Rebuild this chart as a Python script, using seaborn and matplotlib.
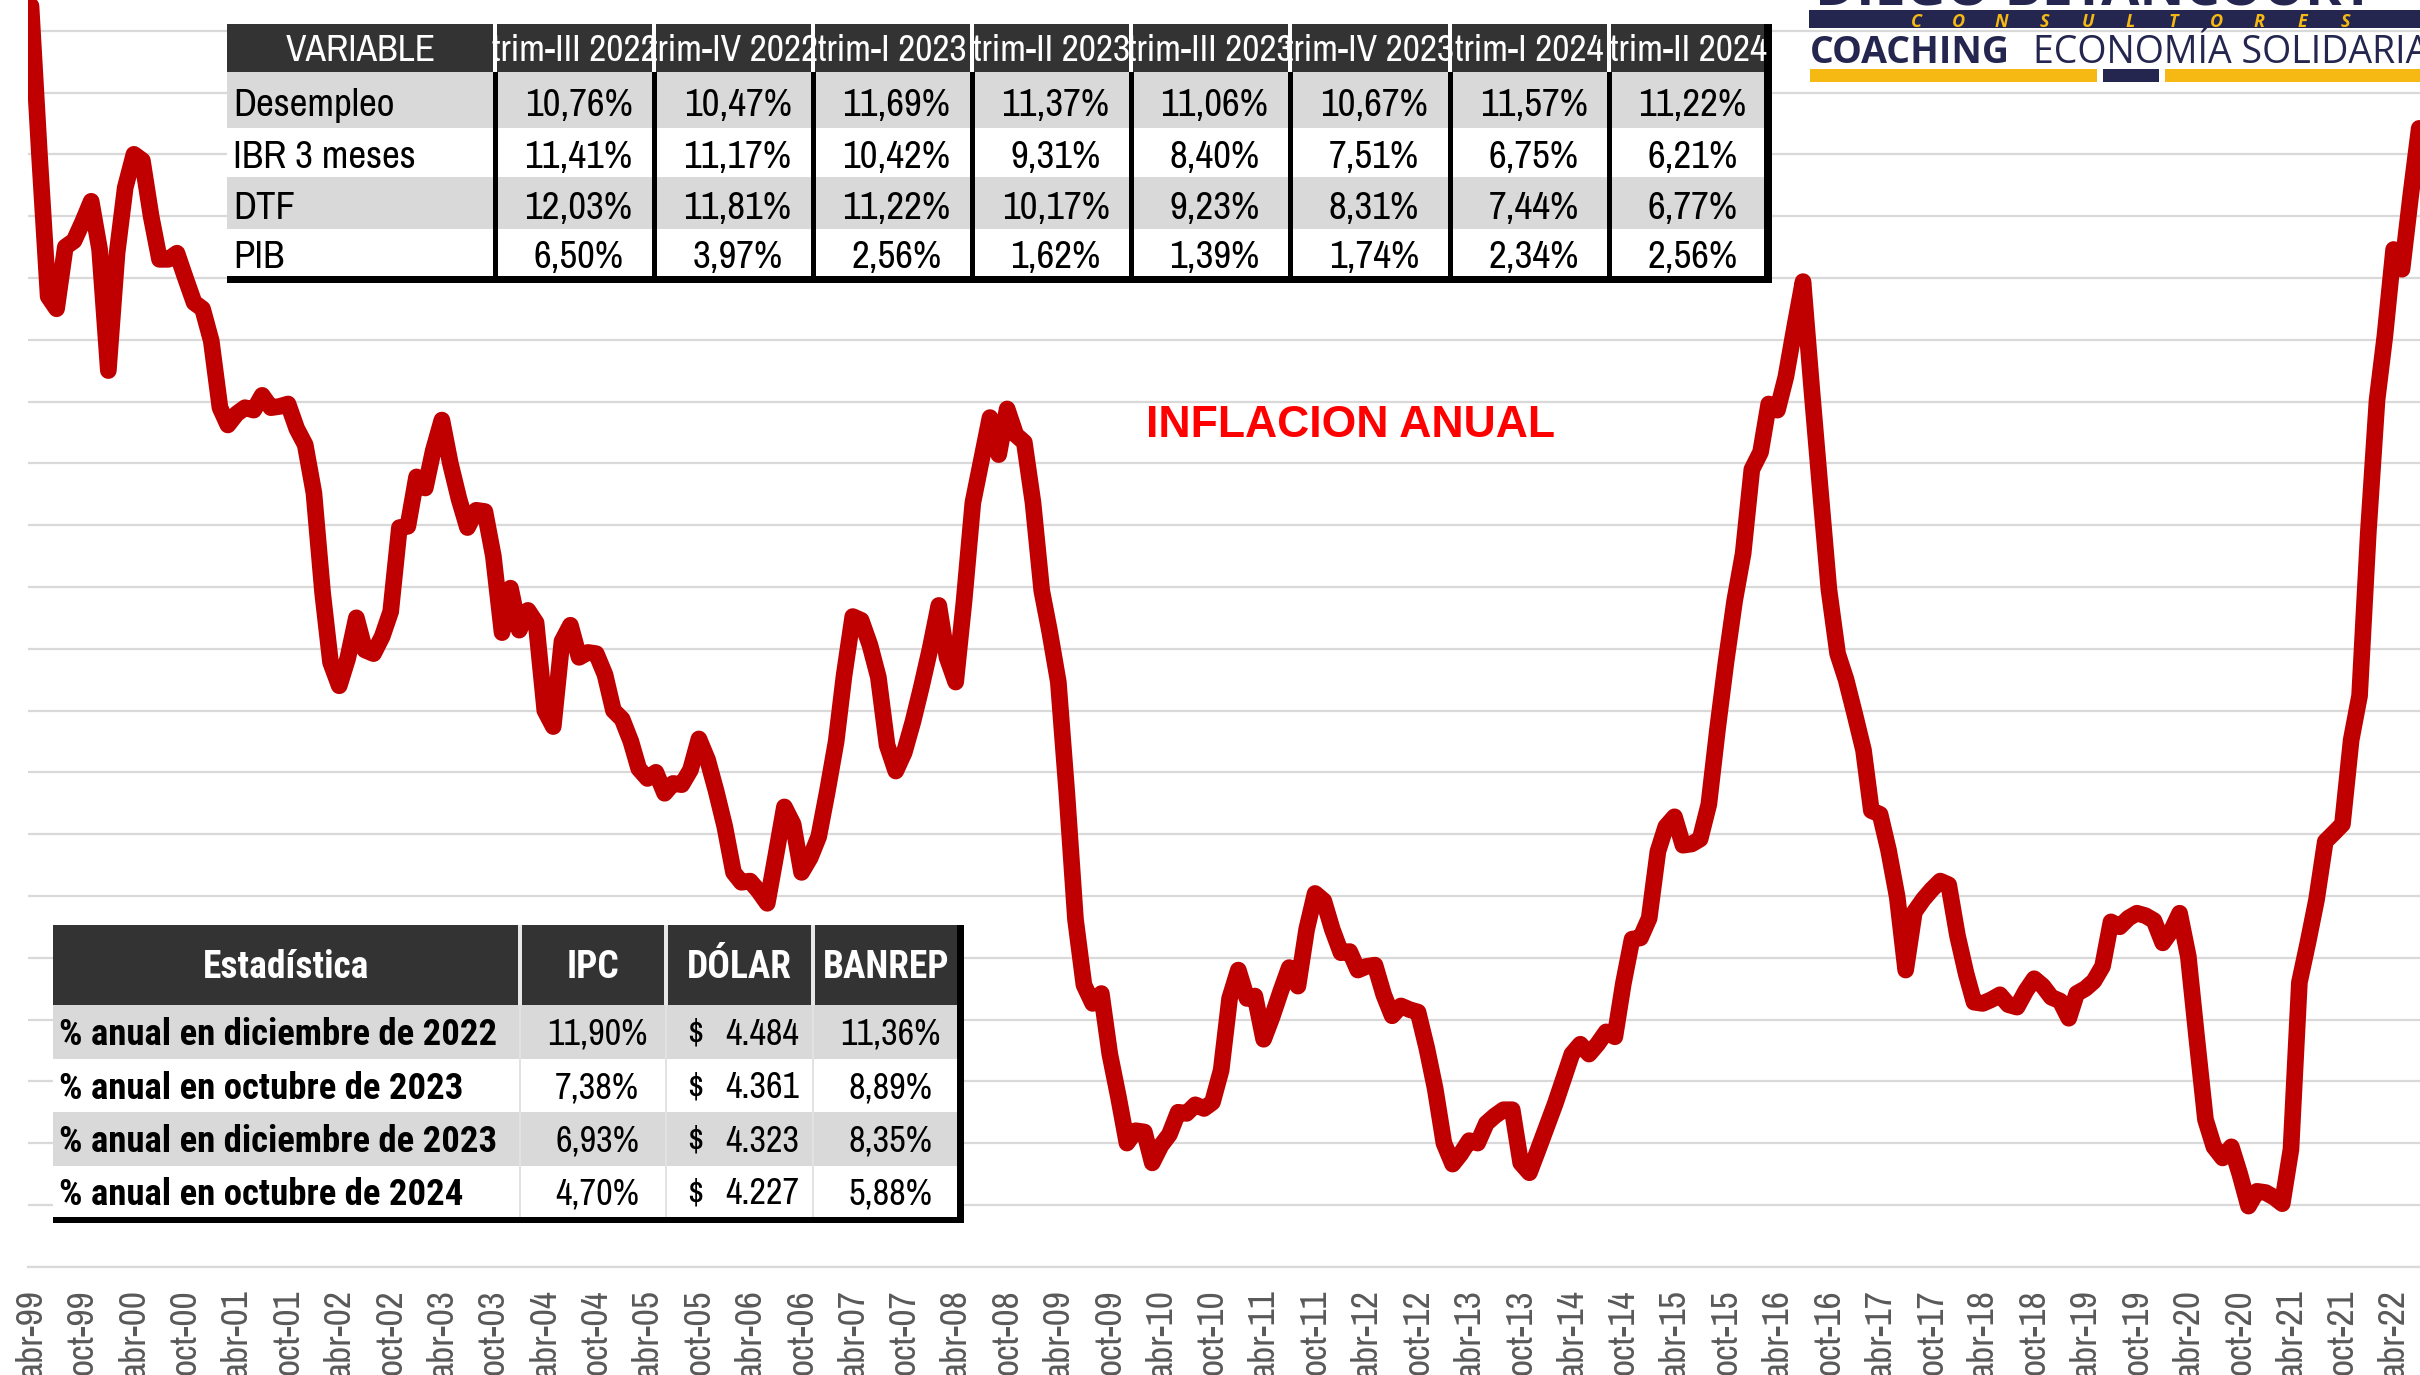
import numpy as np
import pandas as pd
import matplotlib
matplotlib.use('Agg')
import matplotlib.pyplot as plt
import matplotlib.patches as mpatches
from matplotlib import font_manager as fm
import seaborn as sns

# inflacion anual (%), serie mensual desde abr-1999
inicio = '1999-04-01'
inflacion = [
    11.20, 10.00, 8.85, 8.75, 9.25, 9.30, 9.45, 9.62, 9.23,                  # 1999 abr-dic
    8.25, 9.20, 9.73, 10.00, 9.95, 9.50, 9.15, 9.15, 9.20, 9.00, 8.80, 8.75,  # 2000
    8.49, 7.95, 7.81, 7.90, 7.95, 7.93, 8.05, 7.95, 7.96, 7.98, 7.78, 7.65,   # 2001
    7.26, 6.45, 5.89, 5.70, 5.92, 6.25, 5.99, 5.96, 6.10, 6.30, 6.98, 6.99,   # 2002
    7.39, 7.30, 7.60, 7.85, 7.50, 7.21, 6.98, 7.12, 7.11, 6.75, 6.13, 6.49,   # 2003
    6.15, 6.31, 6.21, 5.50, 5.37, 6.06, 6.19, 5.93, 5.97, 5.96, 5.79, 5.50,   # 2004
    5.43, 5.25, 5.03, 4.95, 5.00, 4.83, 4.91, 4.90, 5.02, 5.27, 5.10, 4.85,   # 2005
    4.56, 4.19, 4.11, 4.12, 4.04, 3.94, 4.32, 4.72, 4.58, 4.19, 4.31, 4.48,   # 2006
    4.85, 5.25, 5.78, 6.26, 6.23, 6.03, 5.77, 5.22, 5.01, 5.16, 5.41, 5.69,   # 2007
    6.00, 6.35, 5.93, 5.73, 6.39, 7.18, 7.52, 7.87, 7.57, 7.94, 7.73, 7.67,   # 2008
    7.18, 6.47, 6.14, 5.73, 4.84, 3.81, 3.28, 3.13, 3.21, 2.72, 2.37, 2.00,   # 2009
    2.10, 2.09, 1.84, 1.98, 2.07, 2.25, 2.24, 2.31, 2.28, 2.33, 2.59, 3.17,   # 2010
    3.40, 3.17, 3.19, 2.84, 3.02, 3.23, 3.42, 3.27, 3.73, 4.02, 3.96, 3.73,   # 2011
    3.54, 3.55, 3.40, 3.43, 3.44, 3.20, 3.03, 3.11, 3.08, 3.06, 2.77, 2.44,   # 2012
    2.00, 1.83, 1.91, 2.02, 2.00, 2.16, 2.22, 2.27, 2.27, 1.84, 1.76, 1.94,   # 2013
    2.13, 2.32, 2.51, 2.72, 2.80, 2.72, 2.80, 2.90, 2.86, 3.29, 3.65, 3.66,   # 2014
    3.82, 4.36, 4.56, 4.64, 4.41, 4.42, 4.46, 4.74, 5.35, 5.89, 6.39, 6.77,   # 2015
    7.45, 7.59, 7.98, 7.93, 8.20, 8.60, 8.97, 8.10, 7.27, 6.48, 5.96, 5.75,   # 2016
    5.47, 5.18, 4.69, 4.66, 4.37, 3.99, 3.40, 3.87, 3.97, 4.05, 4.12, 4.09,   # 2017
    3.68, 3.37, 3.14, 3.13, 3.16, 3.20, 3.12, 3.10, 3.23, 3.33, 3.27, 3.18,   # 2018
    3.15, 3.01, 3.21, 3.25, 3.31, 3.43, 3.79, 3.75, 3.82, 3.86, 3.84, 3.80,   # 2019
    3.62, 3.72, 3.86, 3.51, 2.85, 2.19, 1.97, 1.88, 1.97, 1.75, 1.49, 1.61,   # 2020
    1.60, 1.56, 1.51, 1.95, 3.30, 3.63, 3.97, 4.44, 4.51, 4.58, 5.26, 5.62,   # 2021
    6.94, 8.01, 8.53, 9.23, 9.07, 9.67, 10.21,                                # 2022 ene-jul
]

etiquetas_x = [
    'abr-99', 'oct-99', 'abr-00', 'oct-00', 'abr-01', 'oct-01', 'abr-02', 'oct-02',
    'abr-03', 'oct-03', 'abr-04', 'oct-04', 'abr-05', 'oct-05', 'abr-06', 'oct-06',
    'abr-07', 'oct-07', 'abr-08', 'oct-08', 'abr-09', 'oct-09', 'abr-10', 'oct-10',
    'abr-11', 'oct-11', 'abr-12', 'oct-12', 'abr-13', 'oct-13', 'abr-14', 'oct-14',
    'abr-15', 'oct-15', 'abr-16', 'oct-16', 'abr-17', 'oct-17', 'abr-18', 'oct-18',
    'abr-19', 'oct-19', 'abr-20', 'oct-20', 'abr-21', 'oct-21', 'abr-22',
]

# tabla superior
encabezados = ['VARIABLE', 'trim-III 2022', 'trim-IV 2022', 'trim-I 2023', 'trim-II 2023',
               'trim-III 2023', 'trim-IV 2023', 'trim-I 2024', 'trim-II 2024']
variables = ['Desempleo', 'IBR 3 meses', 'DTF', 'PIB']
desempleo = ['10,76%', '10,47%', '11,69%', '11,37%', '11,06%', '10,67%', '11,57%', '11,22%']
ibr_3m = ['11,41%', '11,17%', '10,42%', '9,31%', '8,40%', '7,51%', '6,75%', '6,21%']
dtf = ['12,03%', '11,81%', '11,22%', '10,17%', '9,23%', '8,31%', '7,44%', '6,77%']
pib = ['6,50%', '3,97%', '2,56%', '1,62%', '1,39%', '1,74%', '2,34%', '2,56%']

# tabla inferior
encab_est = ['Estadística', 'IPC', 'DÓLAR', 'BANREP']
estadisticas = ['% anual en diciembre de 2022', '% anual en octubre de 2023',
                '% anual en diciembre de 2023', '% anual en octubre de 2024']
ipc = ['11,90%', '7,38%', '6,93%', '4,70%']
dolar = ['4.484', '4.361', '4.323', '4.227']
banrep = ['11,36%', '8,89%', '8,35%', '5,88%']

W, H = 2420, 1375
sns.set_theme(style='white')
plt.rcParams['font.family'] = ['Liberation Sans', 'DejaVu Sans']
LOGO = ['Open Sans', 'DejaVu Sans']

# fuentes estrechas tipo Arial Narrow (normal y negrita)
_nombres = {f.name for f in fm.fontManager.ttflist}
ESTRECHA, ESCALA = ['Liberation Sans', 'DejaVu Sans'], 0.82
for cand in ['Liberation Sans Narrow', 'Arial Narrow', 'Archivo Narrow', 'Roboto Condensed']:
    if cand in _nombres:
        ESTRECHA, ESCALA = [cand, 'DejaVu Sans'], 1.0
        break
ESTRECHA_B = ['Roboto Condensed', 'DejaVu Sans'] if 'Roboto Condensed' in _nombres else ESTRECHA

fig = plt.figure(figsize=(W / 100, H / 100), dpi=100)
fig.patch.set_facecolor('white')

# ---- grafico principal ----
y_base = 1266.7          # pixel de la linea 1 %
px_unidad = 123.6        # pixeles por punto porcentual
ax = fig.add_axes([28 / W, 1 - y_base / H, 1 - 28 / W, y_base / H])
df = pd.DataFrame({'fecha': pd.date_range(inicio, periods=len(inflacion), freq='MS'),
                   'inflacion': inflacion})
sns.lineplot(data=df, x='fecha', y='inflacion', ax=ax, color='#C00000', linewidth=12,
             solid_capstyle='round', solid_joinstyle='round', zorder=3)

ax.set_ylim(1, 1 + y_base / px_unidad)
ax.set_yticks(np.arange(1, 11.01, 0.5))
ax.set_yticklabels([])
ax.grid(axis='y', color='#D9D9D9', linewidth=1.6)
ax.grid(axis='x', visible=False)

x0 = pd.Timestamp(inicio)
px_dia = 0.28123
ax.set_xlim(x0 - pd.Timedelta(days=3 / px_dia), x0 + pd.Timedelta(days=(W - 31) / px_dia))
ticks = pd.date_range(inicio, periods=len(etiquetas_x), freq='6MS')
ax.set_xticks(ticks)
ax.set_xticklabels(etiquetas_x, rotation=90, color='#595959', fontsize=27 * ESCALA,
                   family=ESTRECHA)
ax.tick_params(axis='x', length=0, pad=16)
ax.tick_params(axis='y', length=0)
ax.set_xlabel('')
ax.set_ylabel('')
for s in ['top', 'left', 'right']:
    ax.spines[s].set_visible(False)
ax.spines['bottom'].set_color('#D9D9D9')
ax.spines['bottom'].set_linewidth(1.6)

# ---- capa de anotaciones en pixeles ----
ov = fig.add_axes([0, 0, 1, 1], zorder=10)
ov.set_xlim(0, W)
ov.set_ylim(H, 0)
ov.axis('off')
ov.patch.set_visible(False)


def rect(xa, ya, xb, yb, color):
    p = mpatches.Rectangle((xa, ya), xb - xa, yb - ya, facecolor=color, edgecolor='none')
    ov.add_patch(p)
    return p


def txt(x, yc, s, size, ha='center', color='black', weight='normal'):
    # yc = centro de las mayusculas
    fam = ESTRECHA_B if weight == 'bold' else ESTRECHA
    size = size * ESCALA
    y = yc + 0.358 * size / 0.72
    return ov.text(x, y, s, fontsize=size, ha=ha, va='baseline', color=color,
                   fontweight=weight, family=fam)


ov.text(1350, 437, 'INFLACION ANUAL', fontsize=32, fontweight='bold', color='#FF0000',
        ha='center', va='baseline', family=['Liberation Sans', 'DejaVu Sans'])

# tabla superior
tx = [227, 495, 654, 813, 972, 1131, 1290, 1450, 1609, 1768]
ty = [24, 72, 128, 177, 229, 276]
for i, h in enumerate(encabezados):
    celda = rect(tx[i], ty[0], tx[i + 1], ty[1], '#333333')
    t = txt((tx[i] + tx[i + 1]) / 2, (ty[0] + ty[1]) / 2, h, 27, color='white')
    t.set_clip_path(celda)
for x in tx[1:-1]:
    rect(x - 2, ty[0], x + 2, ty[1], 'white')

filas = [desempleo, ibr_3m, dtf, pib]
for r, (nombre, vals) in enumerate(zip(variables, filas)):
    rect(tx[0], ty[r + 1], tx[-1], ty[r + 2], '#D9D9D9' if r % 2 == 0 else 'white')
    yc = (ty[r + 1] + ty[r + 2]) / 2 + 2
    txt(233, yc, nombre, 28, ha='left')
    for c, v in enumerate(vals):
        txt((tx[c + 1] + tx[c + 2]) / 2 + 4, yc, v, 28)
for x in tx[1:-1]:
    rect(x - 2.5, ty[1], x + 2.5, ty[-1], 'black')
rect(tx[-1] - 4, ty[0], tx[-1] + 4, ty[-1] + 7, 'black')
rect(tx[0], ty[-1], tx[-1] + 4, ty[-1] + 7, 'black')

# tabla inferior
bx = [53, 520, 666, 813, 960]
by = [925, 1005, 1059, 1112, 1166, 1217]
for i, h in enumerate(encab_est):
    rect(bx[i], by[0], bx[i + 1], by[1], '#333333')
    txt((bx[i] + bx[i + 1]) / 2, (by[0] + by[1]) / 2, h, 27, color='white', weight='bold')
for x in bx[1:-1]:
    rect(x - 2, by[0], x + 2, by[1], '#E8E8E8')
for r in range(4):
    rect(bx[0], by[r + 1], bx[-1], by[r + 2], '#D9D9D9' if r % 2 == 0 else 'white')
    yc = (by[r + 1] + by[r + 2]) / 2
    txt(59, yc, estadisticas[r], 26.5, ha='left', weight='bold')
    txt(597, yc, ipc[r], 26)
    txt(687, yc, '$', 26, ha='left')
    txt(799, yc, dolar[r], 26, ha='right')
    txt(890, yc, banrep[r], 26)
for x in bx[1:-1]:
    rect(x - 1, by[1], x + 1, by[-1], '#E2E2E2')
rect(bx[-1] - 3, by[0], bx[-1] + 4, by[-1] + 6, 'black')
rect(bx[0], by[-1], bx[-1] + 4, by[-1] + 6, 'black')

# logo (recortado en la esquina)
navy = '#24264F'
amarillo = '#F6B914'
ov.text(1815, 5, 'DIEGO BETANCOURT', fontsize=40, fontweight='bold', color=navy,
        ha='left', va='baseline', family=LOGO)
rect(1809, 10, W, 28, navy)
for i, ch in enumerate('CONSULTORES'):
    ov.text(1916 + i * 42.9, 26.5, ch, fontsize=13, fontstyle='italic', fontweight='bold',
            color=amarillo, ha='center', va='baseline', family=LOGO)
ov.text(1810, 63, 'COACHING', fontsize=27, fontweight='bold', color=navy,
        ha='left', va='baseline', family=LOGO)
ov.text(2033, 63, 'ECONOMÍA SOLIDARIA', fontsize=27, color=navy,
        ha='left', va='baseline', family=LOGO)
rect(1810, 69, 2097, 82, amarillo)
rect(2103, 69, 2159, 82, navy)
rect(2165, 69, W, 82, amarillo)

fig.savefig('out.png', dpi=100, facecolor='white')
